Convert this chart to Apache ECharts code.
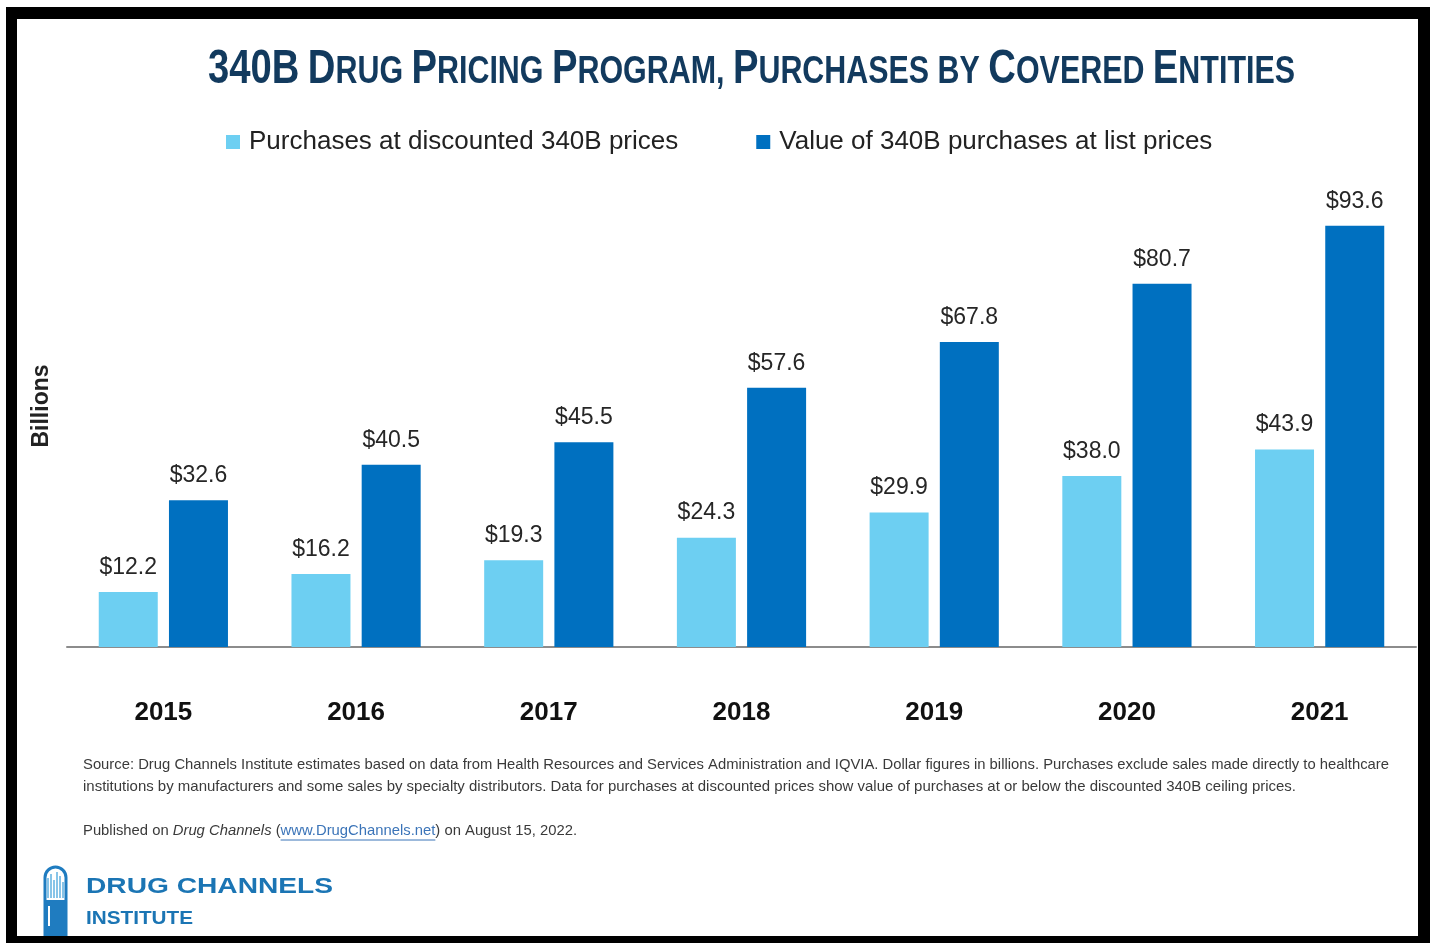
<!DOCTYPE html>
<html>
<head>
<meta charset="utf-8">
<script src="https://cdn.jsdelivr.net/npm/echarts@6/dist/echarts.min.js"></script>
<style>
html,body{margin:0;padding:0;background:#fff;}
#chart{width:1433px;height:943px;}
</style>
</head>
<body>
<div id="chart"></div>
<script>
// ---- data ----
const years = ['2015','2016','2017','2018','2019','2020','2021'];
const discounted = [12.2, 16.2, 19.3, 24.3, 29.9, 38.0, 43.9];
const listPrice = [32.6, 40.5, 45.5, 57.6, 67.8, 80.7, 93.6];
const seriesNames = ['Purchases at discounted 340B prices', 'Value of 340B purchases at list prices'];
const titleText = '340B DRUG PRICING PROGRAM, PURCHASES BY COVERED ENTITIES';
const yAxisName = 'Billions';
const sourceLine1 = 'Source: Drug Channels Institute estimates based on data from Health Resources and Services Administration and IQVIA. Dollar figures in billions. Purchases exclude sales made directly to healthcare';
const sourceLine2 = 'institutions by manufacturers and some sales by specialty distributors. Data for purchases at discounted prices show value of purchases at or below the discounted 340B ceiling prices.';
const pubParts = [['Published on ', 'n'], ['Drug Channels', 'i'], [' (', 'n'], ['www.DrugChannels.net', 'l'], [')', 'n'], [' on August 15, 2022.', 'n']];

const FF = '"Liberation Sans", Arial, sans-serif';
const cv = document.createElement('canvas').getContext('2d');
function mw(font, t){ cv.font = font; return cv.measureText(t).width; }

// ---- title small caps ----
const BIG = 49, SMALL = 39;
const bigFont = 'bold ' + BIG + 'px ' + FF, smallFont = 'bold ' + SMALL + 'px ' + FF;
let runs = [];
titleText.split(' ').forEach((w, wi) => {
  if (wi > 0) runs.push([' ', 's']);
  if (w === '340B') { runs.push([w, 'b']); return; }
  if (w === 'BY') { runs.push([w, 's']); return; }
  runs.push([w[0], 'b']);
  if (w.length > 1) runs.push([w.slice(1), 's']);
});
let titleW = 0;
runs.forEach(r => { titleW += mw(r[1] === 'b' ? bigFont : smallFont, r[0]); });
const titleScale = 1087 / titleW;
const titleRich = runs.map(r => '{' + r[1] + '|' + r[0] + '}').join('');

// ---- source lines scale ----
const srcFont = '15px ' + FF;
const s1 = 1306 / mw(srcFont, sourceLine1);
const s2 = 1213 / mw(srcFont, sourceLine2);

// ---- published ----
const pubFonts = { n: '15px ' + FF, i: 'italic 15px ' + FF, l: '15px ' + FF };
let pubW = 0, linkStart = 0, linkW = 0;
pubParts.forEach(p => {
  const w = mw(pubFonts[p[1]], p[0]);
  if (p[1] === 'l') { linkStart = pubW; linkW = w; }
  pubW += w;
});
const pubScale = 494 / pubW;
const pubRich = pubParts.map(p => '{' + p[1] + '|' + p[0] + '}').join('');

// ---- logo text ----
const logoFont1 = 'bold 22px ' + FF, logoFont2 = 'bold 19px ' + FF;
const lg1 = 247 / mw(logoFont1, 'DRUG CHANNELS');
const lg2 = 107 / mw(logoFont2, 'INSTITUTE');

const chart = echarts.init(document.getElementById('chart'), null, {renderer: 'canvas'});
const labelCfg = {
  show: true, position: 'top', distance: 13,
  formatter: p => '$' + p.value.toFixed(1),
  fontSize: 23, color: '#262626', fontFamily: FF
};
const BLUE = '#1f7cc0';
const logoBars = [];
[[48,20],[51,24],[54,18],[57,26],[60,22],[63,16]].forEach(b => {
  logoBars.push({type:'line', shape:{x1:b[0], y1:898, x2:b[0], y2:898-b[1]}, style:{stroke:'#5fb0e0', lineWidth:1.5}});
});

const option = {
  backgroundColor: '#fff',
  animation: false,
  legend: {
    left: 226, top: 129, padding: 0,
    itemWidth: 14, itemHeight: 14, itemGap: 78, icon: 'rect',
    textStyle: { fontSize: 26, color: '#222', fontFamily: FF, padding: [0,0,0,4] },
    data: seriesNames
  },
  grid: { left: 67, right: 17, top: 197, bottom: 296 },
  xAxis: {
    type: 'category', data: years,
    axisLine: { lineStyle: { color: '#8c8c8c', width: 2 } },
    axisTick: { show: false },
    axisLabel: { fontSize: 26, fontWeight: 'bold', color: '#111', fontFamily: FF, margin: 53 }
  },
  yAxis: {
    type: 'value', min: 0, max: 100, interval: 20,
    show: false, splitLine: { show: false }
  },
  series: [
    { name: seriesNames[0], type: 'bar', data: discounted, barWidth: 59, barGap: '19%',
      itemStyle: { color: '#6dcff2' }, label: labelCfg },
    { name: seriesNames[1], type: 'bar', data: listPrice, barWidth: 59, barGap: '19%',
      itemStyle: { color: '#0070c0' }, label: labelCfg }
  ],
  graphic: [
    { type: 'text', x: 208, y: 94, scaleX: titleScale, originX: 0, originY: 0,
      style: { text: titleRich, align: 'left', verticalAlign: 'bottom', textAlign: 'left', textVerticalAlign: 'bottom', fill: '#123a5e',
        rich: {
          b: { fontSize: BIG, fontWeight: 'bold', fontFamily: FF, fill: '#123a5e', verticalAlign: 'bottom', lineHeight: BIG },
          s: { fontSize: SMALL, fontWeight: 'bold', fontFamily: FF, fill: '#123a5e', verticalAlign: 'bottom', lineHeight: SMALL, padding: [0,0,2,0] }
        } } },
    { type: 'text', x: 42, y: 406, rotation: Math.PI / 2,
      style: { text: yAxisName, font: 'bold 23px ' + FF, fill: '#222', align: 'center', verticalAlign: 'middle', textAlign: 'center', textVerticalAlign: 'middle' } },
    { type: 'text', x: 83, y: 765, scaleX: s1,
      style: { text: sourceLine1, font: srcFont, fill: '#3a3a3a', align: 'left', verticalAlign: 'middle', textAlign: 'left', textVerticalAlign: 'middle' } },
    { type: 'text', x: 83, y: 787, scaleX: s2,
      style: { text: sourceLine2, font: srcFont, fill: '#3a3a3a', align: 'left', verticalAlign: 'middle', textAlign: 'left', textVerticalAlign: 'middle' } },
    { type: 'text', x: 83, y: 831, scaleX: pubScale,
      style: { text: pubRich, align: 'left', verticalAlign: 'middle', textAlign: 'left', textVerticalAlign: 'middle',
        rich: {
          n: { fontSize: 15, fontFamily: FF, fill: '#3a3a3a' },
          i: { fontSize: 15, fontFamily: FF, fontStyle: 'italic', fill: '#3a3a3a' },
          l: { fontSize: 15, fontFamily: FF, fill: '#3b74b8' }
        } } },
    { type: 'line', shape: { x1: 83 + linkStart * pubScale, y1: 840, x2: 83 + (linkStart + linkW) * pubScale, y2: 840 },
      style: { stroke: '#3b74b8', lineWidth: 1 } },
    // logo
    { type: 'rect', shape: { x: 45, y: 867, width: 21, height: 80, r: 10.5 }, style: { fill: '#fff', stroke: BLUE, lineWidth: 3 } },
    { type: 'rect', shape: { x: 45, y: 900, width: 21, height: 47, r: [0,0,10.5,10.5] }, style: { fill: BLUE } },
    { type: 'line', shape: { x1: 49, y1: 906, x2: 49, y2: 926 }, style: { stroke: '#fff', lineWidth: 2 } },
    ...logoBars,
    { type: 'text', x: 86, y: 887, scaleX: lg1,
      style: { text: 'DRUG CHANNELS', font: logoFont1, fill: '#1b75b4', align: 'left', verticalAlign: 'middle', textAlign: 'left', textVerticalAlign: 'middle' } },
    { type: 'text', x: 86, y: 919, scaleX: lg2,
      style: { text: 'INSTITUTE', font: logoFont2, fill: '#1b75b4', align: 'left', verticalAlign: 'middle', textAlign: 'left', textVerticalAlign: 'middle' } },
    // frame
    { type: 'rect', z: 100, shape: { x: 6, y: 7, width: 1424, height: 12 }, style: { fill: '#000' } },
    { type: 'rect', z: 100, shape: { x: 6, y: 7, width: 11, height: 936 }, style: { fill: '#000' } },
    { type: 'rect', z: 100, shape: { x: 1418, y: 7, width: 12, height: 936 }, style: { fill: '#000' } },
    { type: 'rect', z: 100, shape: { x: 6, y: 936, width: 1424, height: 7 }, style: { fill: '#000' } }
  ]
};
chart.setOption(option);
</script>
</body>
</html>
